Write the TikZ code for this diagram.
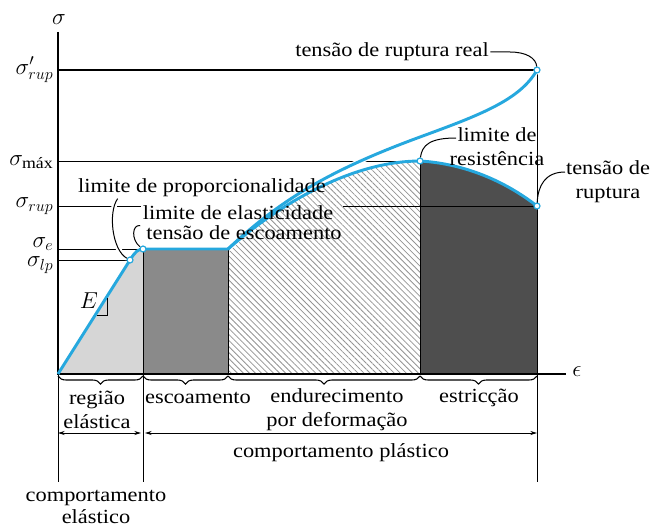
\documentclass[tikz,border=0pt]{standalone}
\usepackage{fontspec}
\setmainfont[FakeStretch=1.12]{Liberation Serif}
\usepackage{amsmath}
\usepackage{xcolor}
\usetikzlibrary{patterns.meta,decorations.pathreplacing,arrows.meta,calc}

\definecolor{curvablue}{RGB}{38,168,222}
\definecolor{cinzaclaro}{RGB}{214,214,214}
\definecolor{cinzamedio}{RGB}{138,138,138}
\definecolor{cinzaescuro}{RGB}{78,78,78}

\tikzset{
  curva/.style={color=curvablue,line width=2.2pt,line join=round},
  halo/.style={preaction={draw=white,line width=4pt}},
  guia/.style={line width=0.75pt},
  ponto/.style={circle,draw=curvablue,fill=white,line width=0.9pt,inner sep=0pt,minimum size=4.5pt},
  rotulo/.style={font=\fontsize{15}{18}\selectfont,align=center,inner sep=1pt},
  simbolo/.style={font=\fontsize{17}{20}\selectfont,inner sep=1pt},
  chave/.style={decorate,decoration={brace,mirror,amplitude=6pt},line width=0.8pt},
  cota/.style={{Stealth[length=5pt,width=3pt]}-{Stealth[length=5pt,width=3pt]},line width=0.7pt},
}

\begin{document}
\begin{tikzpicture}[x=0.75pt,y=0.75pt,yscale=-1,xscale=1]
\useasboundingbox (0,0) rectangle (652,528);

% points of the curves
\coordinate (orig) at (58,374);
\coordinate (lp) at (130,260);
\coordinate (el) at (143,249);
\coordinate (esc) at (228,249);
\coordinate (max) at (420,161);
\coordinate (rup) at (537,206);
\coordinate (real) at (537,70);

%Shape: regiao elastica
\fill [cinzaclaro] (orig) -- (lp) .. controls (135,252) and (138,249) .. (el) -- (143,374) -- cycle ;
%Shape: escoamento
\fill [cinzamedio] (el) rectangle (228,374) ;
%Shape: endurecimento
\pattern [pattern={Lines[angle=-45,distance=3.2pt,line width=0.6pt]},pattern color=gray!85] (esc) .. controls (290,195) and (360,161) .. (max) -- (420,374) -- (228,374) -- cycle ;
%Shape: estriccao
\fill [cinzaescuro] (max) .. controls (470,164) and (510,185) .. (rup) -- (537,374) -- (420,374) -- cycle ;

%Straight Lines: reference levels
\draw [guia] (58,70) -- (real) ;
\draw [guia] (58,161) -- (max) ;
\draw [guia] (58,206) -- (141,206) ;
\draw [guia] (343,206) -- (rup) ;
\draw [guia] (58,249) -- (el) ;
\draw [guia] (58,260) -- (lp) ;

%Straight Lines: region borders and extension lines
\draw [guia] (el) -- (143,482) ;
\draw [guia] (esc) -- (228,374) ;
\draw [guia] (max) -- (420,374) ;
\draw [guia] (real) -- (537,482) ;
\draw [guia] (58,374) -- (58,482) ;

%Straight Lines: axes
\draw [line width=1.1pt] (58,32) -- (orig) -- (566,374) ;

%Curve Lines: tensao real
\draw [curva,halo] (esc) .. controls (280,200) and (330,170) .. (420,137) .. controls (480,115) and (520,100) .. (real) ;
%Curve Lines: tensao de engenharia
\draw [curva] (orig) -- (lp) .. controls (135,252) and (138,249) .. (el) -- (esc) .. controls (290,195) and (360,161) .. (max) .. controls (470,164) and (510,185) .. (rup) ;

% slope E
\draw [guia] (107,298) -- (107,315) -- (97,315) ;
\node [simbolo] (modE) at (89,301) {$E$};

% Text Node: axis labels
\node [simbolo] (sig) at (59,20) {$\sigma$};
\node [simbolo] (eps) at (577,372) {$\epsilon$};
\node [simbolo,anchor=east] (sigrealrup) at (55,70) {$\sigma'_{rup}$};
\node [simbolo,anchor=east] (sigmax) at (55,162) {$\sigma_{\text{máx}}$};
\node [simbolo,anchor=east] (sigrup) at (55,206) {$\sigma_{rup}$};
\node [simbolo,anchor=east] (sige) at (55,244) {$\sigma_{e}$};
\node [simbolo,anchor=east] (siglp) at (55,265) {$\sigma_{lp}$};

% Text Node: curve labels
\node [rotulo] (limprop) at (202,188) {limite de proporcionalidade};
\node [rotulo] (limelas) at (238,213) {limite de elasticidade};
\node [rotulo] (tensesc) at (244,233) {tensão de escoamento};
\node [rotulo] (tensreal) at (392,52) {tensão de ruptura real};
\node [rotulo] (limres) at (497,147) {limite de\\resistência};
\node [rotulo] (tensrup) at (608,182) {tensão de\\ruptura};

% points
\node [ponto] (plp) at (lp) {};
\node [ponto] (pel) at (el) {};
\node [ponto] (pmax) at (max) {};
\node [ponto] (prup) at (rup) {};
\node [ponto] (preal) at (real) {};

%Curve Lines: leaders
\coordinate (resend) at (456,138) ;
\coordinate (rupend) at (565,172) ;
\draw [guia,halo] ($(limprop.south west)+(41,0)$) .. controls (108,212) and (112,250) .. (plp) ;
\draw [guia,halo] ($(limelas.south west)+(-1,4)$) .. controls (132,224) and (131,240) .. (pel) ;
\draw [guia] (tensreal.east) -- (510,52) .. controls (526,52) and (536,58) .. (preal) ;
\draw [guia] (pmax) .. controls (422,145) and (430,138) .. (resend) ;
\draw [guia] (prup) .. controls (538,186) and (545,172) .. (rupend) ;

% braces under the axis
\draw [chave] (58,376) -- (143,376) ;
\draw [chave] (143,376) -- (228,376) ;
\draw [chave] (228,376) -- (420,376) ;
\draw [chave] (420,376) -- (537,376) ;

% Text Node: regions
\node [rotulo] (regel) at (97,410) {região\\elástica};
\node [rotulo] (escoam) at (198,398) {escoamento};
\node [rotulo] (endur) at (337,410) {endurecimento\\por deformação};
\node [rotulo] (estric) at (479,398) {estricção};

%Straight Lines: behaviour arrows
\draw [cota] (58,433) -- (141,433) ;
\draw [cota] (145,433) -- (537,433) ;

% Text Node: behaviour
\node [rotulo] (complas) at (341,453) {comportamento plástico};
\node [rotulo,font=\fontsize{15}{16.5}\selectfont] (compel) at (96,507) {comportamento\\elástico};

\end{tikzpicture}
\end{document}
